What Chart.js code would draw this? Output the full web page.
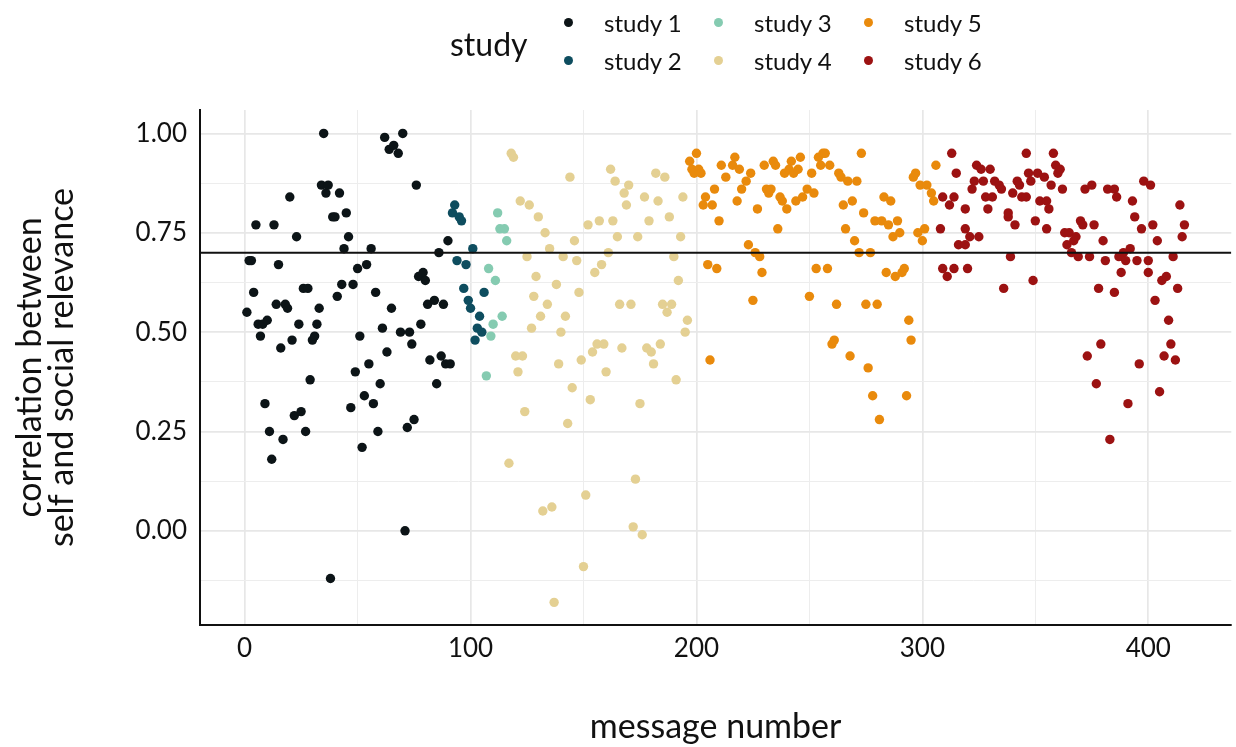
<!DOCTYPE html>
<html>
<head>
<meta charset="utf-8">
<title>self vs social relevance</title>
<script src="https://cdn.jsdelivr.net/npm/chart.js@4/dist/chart.umd.min.js"></script>
<style>
  html, body { margin: 0; padding: 0; background: #fff; }
  #wrap { position: relative; width: 1236px; height: 747px; font-family: Lato, 'Noto Sans', sans-serif; color: #111; }
  #legend { position: absolute; left: 0; top: 0; width: 1236px; height: 90px; }
  #legend .title { position: absolute; left: 450px; top: 24px; font-size: 32px; line-height: 40px; }
  #legend .item { position: absolute; display: flex; align-items: center; height: 30px; font-size: 24px; }
  #legend .dot { width: 9px; height: 9px; border-radius: 50%; margin-right: 31px; }
</style>
</head>
<body>
<div id="wrap">
  <canvas id="chart" width="1236" height="747"></canvas>
  <div id="legend"></div>
</div>
<script>
// message number / correlation pairs, one array pair per study
const study1X = [1, 2, 3, 4, 5, 6, 7, 8, 9, 10, 11, 12, 13, 14, 15, 16, 17, 18, 19, 20,
  21, 22, 23, 24, 25, 26, 27, 28, 29, 30, 31, 32, 33, 34, 35, 36, 37, 38, 39, 40,
  41, 42, 43, 44, 45, 46, 47, 48, 49, 50, 51, 52, 53, 54, 55, 56, 57, 58, 59, 60,
  61, 62, 63, 64, 65, 66, 68, 69, 70, 71, 72, 73, 74, 75, 76, 77, 78, 79, 80, 81,
  82, 84, 85, 86, 87, 88, 89, 90, 91];
const study1Y = [0.55, 0.68, 0.68, 0.60, 0.77, 0.52, 0.49, 0.52, 0.32, 0.53, 0.25, 0.18, 0.77, 0.57, 0.67, 0.46, 0.23, 0.57, 0.56, 0.84,
  0.48, 0.29, 0.74, 0.52, 0.30, 0.61, 0.25, 0.61, 0.38, 0.48, 0.49, 0.52, 0.56, 0.87, 1.00, 0.85, 0.87, -0.12, 0.79, 0.79,
  0.59, 0.85, 0.62, 0.71, 0.80, 0.74, 0.31, 0.62, 0.40, 0.66, 0.49, 0.21, 0.34, 0.67, 0.42, 0.71, 0.32, 0.60, 0.25, 0.37,
  0.51, 0.99, 0.45, 0.96, 0.56, 0.97, 0.95, 0.50, 1.00, 0.00, 0.26, 0.50, 0.47, 0.28, 0.87, 0.64, 0.52, 0.65, 0.63, 0.57,
  0.43, 0.58, 0.37, 0.70, 0.44, 0.57, 0.42, 0.73, 0.42];

const study2X = [92, 93, 94, 95, 96, 97, 98, 99, 100, 101, 102, 103, 104, 105, 106];
const study2Y = [0.80, 0.82, 0.68, 0.79, 0.78, 0.61, 0.67, 0.58, 0.56, 0.71, 0.48, 0.51, 0.54, 0.50, 0.60];

const study3X = [107, 108, 109, 110, 111, 112, 113, 114, 115, 116];
const study3Y = [0.39, 0.66, 0.49, 0.52, 0.63, 0.80, 0.76, 0.54, 0.76, 0.73];

const study4X = [117, 118, 119, 120, 121, 122, 123, 124, 125, 126, 127, 128, 129, 130, 131, 132, 133, 134, 135, 136,
  137, 138, 139, 140, 141, 142, 143, 144, 145, 146, 147, 148, 149, 150, 151, 152, 153, 154, 155, 156,
  157, 158, 159, 160, 161, 162, 163, 164, 165, 166, 167, 168, 169, 170, 171, 172, 173, 174, 175, 176,
  177, 178, 179, 180, 181, 182, 183, 184, 185, 186, 187, 188, 189, 190, 191, 192, 193, 194, 195, 196];
const study4Y = [0.17, 0.95, 0.94, 0.44, 0.40, 0.83, 0.44, 0.30, 0.69, 0.82, 0.51, 0.59, 0.64, 0.79, 0.54, 0.05, 0.75, 0.57, 0.71, 0.06,
  -0.18, 0.62, 0.42, 0.50, 0.69, 0.54, 0.27, 0.89, 0.36, 0.73, 0.68, 0.60, 0.43, -0.09, 0.09, 0.77, 0.33, 0.45, 0.65, 0.47,
  0.78, 0.67, 0.47, 0.40, 0.70, 0.91, 0.78, 0.88, 0.74, 0.57, 0.46, 0.85, 0.82, 0.87, 0.57, 0.01, 0.13, 0.74, 0.32, -0.01,
  0.84, 0.46, 0.78, 0.45, 0.42, 0.90, 0.83, 0.47, 0.57, 0.89, 0.55, 0.79, 0.57, 0.69, 0.38, 0.63, 0.74, 0.84, 0.50, 0.53];

const study5X = [197, 198, 199, 200, 201, 202, 203, 204, 205, 206, 207, 208, 209, 210, 211, 213, 216, 217, 218, 219,
  220, 222, 223, 224, 225, 226, 227, 228, 229, 230, 231, 232, 233, 234, 235, 236, 237, 238, 239, 240,
  241, 242, 243, 244, 245, 246, 247, 249, 250, 251, 252, 253, 254, 255, 256, 257, 258, 259, 260, 261,
  262, 263, 264, 265, 266, 267, 268, 269, 270, 271, 272, 273, 274, 275, 276, 277, 278, 279, 280, 281,
  282, 283, 284, 285, 286, 287, 288, 289, 290, 291, 292, 293, 294, 295, 296, 297, 298, 299, 300, 301,
  302, 304, 305, 306];
const study5Y = [0.93, 0.91, 0.90, 0.95, 0.91, 0.90, 0.82, 0.84, 0.67, 0.43, 0.82, 0.86, 0.66, 0.78, 0.92, 0.89, 0.92, 0.94, 0.83, 0.91,
  0.86, 0.88, 0.72, 0.90, 0.58, 0.70, 0.81, 0.69, 0.65, 0.92, 0.86, 0.85, 0.86, 0.93, 0.92, 0.76, 0.84, 0.83, 0.90, 0.81,
  0.91, 0.93, 0.90, 0.83, 0.91, 0.94, 0.84, 0.86, 0.59, 0.90, 0.85, 0.66, 0.94, 0.92, 0.95, 0.95, 0.66, 0.92, 0.47, 0.48,
  0.57, 0.90, 0.89, 0.82, 0.76, 0.88, 0.44, 0.83, 0.73, 0.88, 0.70, 0.95, 0.80, 0.57, 0.41, 0.70, 0.34, 0.78, 0.57, 0.28,
  0.78, 0.84, 0.65, 0.77, 0.83, 0.74, 0.64, 0.78, 0.75, 0.65, 0.66, 0.34, 0.53, 0.48, 0.89, 0.90, 0.75, 0.87, 0.73, 0.76,
  0.87, 0.85, 0.83, 0.92];

const study6X = [308, 309, 309, 311, 312, 313, 314, 314, 315, 316, 319, 319, 319, 320, 321, 322, 323, 324, 325, 326,
  327, 328, 329, 330, 331, 332, 334, 335, 336, 338, 338, 339, 340, 341, 342, 343, 344, 346, 346, 347,
  348, 349, 350, 351, 352, 354, 355, 355, 356, 357, 358, 359, 360, 361, 362, 363, 364, 365, 366, 367,
  368, 369, 370, 371, 372, 373, 374, 375, 376, 377, 378, 379, 380, 381, 382, 383, 385, 385, 386, 387,
  388, 389, 390, 391, 392, 393, 394, 395, 396, 397, 398, 400, 400, 401, 402, 403, 404, 405, 406, 407,
  408, 409, 410, 411, 412, 413, 414, 415, 416];
const study6Y = [0.76, 0.84, 0.66, 0.64, 0.82, 0.95, 0.84, 0.66, 0.90, 0.72, 0.81, 0.72, 0.76, 0.66, 0.74, 0.86, 0.88, 0.92, 0.74, 0.91,
  0.88, 0.84, 0.81, 0.91, 0.84, 0.88, 0.87, 0.86, 0.61, 0.79, 0.80, 0.69, 0.85, 0.77, 0.88, 0.87, 0.84, 0.84, 0.95, 0.90,
  0.88, 0.63, 0.78, 0.90, 0.83, 0.89, 0.83, 0.76, 0.81, 0.87, 0.95, 0.92, 0.90, 0.91, 0.86, 0.75, 0.72, 0.75, 0.70, 0.73,
  0.74, 0.69, 0.78, 0.77, 0.86, 0.44, 0.69, 0.87, 0.77, 0.37, 0.61, 0.47, 0.73, 0.68, 0.86, 0.23, 0.86, 0.60, 0.84, 0.69,
  0.65, 0.70, 0.68, 0.32, 0.71, 0.83, 0.79, 0.68, 0.42, 0.76, 0.88, 0.68, 0.65, 0.87, 0.77, 0.58, 0.73, 0.35, 0.63, 0.44,
  0.64, 0.53, 0.47, 0.69, 0.43, 0.61, 0.82, 0.74, 0.77];

const studyNames  = ['study 1', 'study 2', 'study 3', 'study 4', 'study 5', 'study 6'];
const studyColors = ['#0c1417', '#0e4d5f', '#85cbb1', '#e4d093', '#e98a0c', '#9c1212'];
const studyXs = [study1X, study2X, study3X, study4X, study5X, study6X];
const studyYs = [study1Y, study2Y, study3Y, study4Y, study5Y, study6Y];

// reference correlation and axis ranges
const refLine = 0.70;
const xRange = [-19.75, 436.75];
const yRange = [-0.237, 1.059];

const fontFamily = "Lato, 'Noto Sans', sans-serif";
const ink = '#111';

// ── Legend (HTML, above the canvas) ─────────────────────────
const legend = document.getElementById('legend');
legend.innerHTML = '<div class="title">study</div>';
studyNames.forEach((name, i) => {
  const col = Math.floor(i / 2), row = i % 2;
  const el = document.createElement('div');
  el.className = 'item';
  el.style.left = (564 + col * 150) + 'px';
  el.style.top = (7 + row * 38) + 'px';
  el.innerHTML = `<span class="dot" style="background:${studyColors[i]}"></span><span>${name}</span>`;
  legend.appendChild(el);
});

// ── Chart ───────────────────────────────────────────────────
const datasets = studyNames.map((name, i) => ({
  label: name,
  data: studyXs[i].map((x, j) => ({ x, y: studyYs[i][j] })),
  backgroundColor: studyColors[i],
  borderWidth: 0,
  pointRadius: 4.7,
  pointHoverRadius: 4.7,
  order: 6 - i,
}));

datasets.push({
  type: 'line',
  label: 'reference',
  data: [{ x: xRange[0], y: refLine }, { x: xRange[1], y: refLine }],
  borderColor: '#111',
  borderWidth: 2,
  pointRadius: 0,
  order: 0,
});

const isMajor = (v, step) => Math.abs(Math.round(v * 1000) % Math.round(step * 1000)) === 0;

new Chart(document.getElementById('chart'), {
  type: 'scatter',
  data: { datasets },
  options: {
    responsive: false,
    animation: false,
    devicePixelRatio: 1,
    layout: { padding: { top: 110, right: 2, left: 0, bottom: 0 } },
    plugins: { legend: { display: false }, tooltip: { enabled: false } },
    scales: {
      x: {
        type: 'linear',
        min: xRange[0],
        max: xRange[1],
        afterFit: s => { s.height = 122; },
        ticks: {
          stepSize: 50,
          includeBounds: false,
          autoSkip: false,
          maxRotation: 0,
          padding: 8,
          color: ink,
          font: { family: fontFamily, size: 26 },
          callback: v => isMajor(v, 100) ? v : '',
        },
        grid: {
          drawTicks: false,
          color: ctx => isMajor(ctx.tick.value, 100) ? '#e7e7e7' : '#ededed',
          lineWidth: ctx => isMajor(ctx.tick.value, 100) ? 1.7 : 1,
        },
        border: { display: true, color: '#111', width: 2 },
        title: {
          display: true,
          text: 'message number',
          color: ink,
          font: { family: fontFamily, size: 34 },
          padding: { top: 0, bottom: 0 },
        },
      },
      y: {
        type: 'linear',
        min: yRange[0],
        max: yRange[1],
        afterFit: s => { s.width = 200; },
        ticks: {
          stepSize: 0.125,
          includeBounds: false,
          autoSkip: false,
          padding: 13,
          color: ink,
          font: { family: fontFamily, size: 26 },
          callback: v => isMajor(v, 0.25) ? v.toFixed(2) : '',
        },
        grid: {
          drawTicks: false,
          color: ctx => isMajor(ctx.tick.value, 0.25) ? '#e7e7e7' : '#ededed',
          lineWidth: ctx => isMajor(ctx.tick.value, 0.25) ? 1.7 : 1,
        },
        border: { display: true, color: '#111', width: 2 },
        title: {
          display: true,
          text: ['correlation between', 'self and social relevance'],
          color: ink,
          font: { family: fontFamily, size: 34, lineHeight: 0.95 },
          padding: { top: 14, bottom: 0 },
        },
      },
    },
  },
});
</script>
</body>
</html>
